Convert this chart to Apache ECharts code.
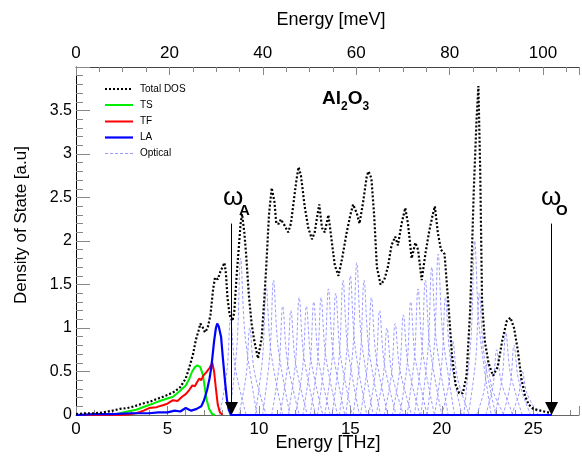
<!DOCTYPE html>
<html><head><meta charset="utf-8">
<script src="https://cdn.jsdelivr.net/npm/echarts@6/dist/echarts.min.js"></script>
<style>html,body{margin:0;padding:0;background:#fff}#c{width:582px;height:462px}</style>
</head><body><div id="c"></div>
<script>
// ---- data (x in THz, y in a.u.) ----
const totalDOS = [[0,0.01],[0.5,0.02],[1.0,0.02],[1.5,0.03],[2.0,0.05],[2.4,0.07],[2.8,0.08],[3.2,0.1],[3.6,0.13],[4.0,0.15],[4.5,0.19],[5.0,0.23],[5.4,0.27],[5.7,0.32],[6.0,0.42],[6.2,0.55],[6.4,0.7],[6.55,0.86],[6.7,0.97],[6.8,1.05],[6.9,1.02],[7.05,0.95],[7.2,1.0],[7.35,1.15],[7.5,1.45],[7.6,1.58],[7.75,1.56],[7.9,1.65],[8.05,1.72],[8.12,1.75],[8.2,1.62],[8.28,1.35],[8.4,1.15],[8.55,1.08],[8.65,1.18],[8.8,1.65],[9.0,2.2],[9.08,2.31],[9.2,2.1],[9.3,1.85],[9.45,1.38],[9.6,1.05],[9.75,0.85],[9.95,0.65],[10.15,0.88],[10.3,1.35],[10.4,1.7],[10.55,2.3],[10.7,2.61],[10.85,2.45],[10.95,2.2],[11.1,2.2],[11.2,2.25],[11.4,2.18],[11.6,2.1],[11.75,2.2],[11.9,2.45],[12.05,2.7],[12.17,2.85],[12.3,2.75],[12.5,2.4],[12.7,2.15],[12.9,2.02],[13.05,2.1],[13.2,2.3],[13.3,2.42],[13.45,2.15],[13.6,2.1],[13.8,2.3],[13.95,2.05],[14.15,1.72],[14.35,1.6],[14.55,1.8],[14.8,2.1],[15.0,2.3],[15.15,2.42],[15.35,2.32],[15.5,2.2],[15.7,2.45],[15.9,2.75],[16.0,2.8],[16.15,2.72],[16.3,2.3],[16.45,1.7],[16.65,1.5],[16.85,1.55],[17.05,1.7],[17.25,1.95],[17.45,2.05],[17.6,1.95],[17.8,2.2],[18.0,2.38],[18.15,2.2],[18.35,1.8],[18.55,1.98],[18.7,1.9],[18.9,1.55],[19.1,1.85],[19.3,2.1],[19.5,2.3],[19.62,2.4],[19.78,2.1],[19.95,1.9],[20.15,1.85],[20.35,1.3],[20.55,0.7],[20.75,0.35],[20.95,0.25],[21.15,0.25],[21.35,0.45],[21.55,1.2],[21.75,2.6],[21.9,3.4],[22.0,3.78],[22.1,2.8],[22.2,1.3],[22.35,0.85],[22.55,0.6],[22.8,0.45],[23.05,0.55],[23.3,0.85],[23.55,1.08],[23.75,1.12],[23.95,1.0],[24.15,0.75],[24.35,0.42],[24.55,0.22],[24.75,0.12],[25.0,0.07],[25.4,0.05],[25.8,0.03],[26.0,0.02]];

const tsData = [[0,0],[2.0,0],[2.4,0.02],[2.8,0.04],[3.3,0.06],[3.8,0.1],[4.2,0.13],[4.7,0.17],[5.0,0.19],[5.3,0.21],[5.65,0.27],[6.0,0.34],[6.2,0.42],[6.35,0.5],[6.5,0.55],[6.63,0.57],[6.8,0.55],[6.95,0.45],[7.05,0.3],[7.15,0.17],[7.28,0.07],[7.45,0.01],[7.6,0]];

const tfData = [[0,0],[2.5,0],[3.0,0.01],[3.3,0.02],[3.7,0.05],[4.0,0.08],[4.4,0.09],[4.7,0.11],[5.0,0.13],[5.3,0.17],[5.55,0.16],[5.8,0.21],[6.0,0.24],[6.2,0.29],[6.36,0.34],[6.5,0.33],[6.6,0.37],[6.74,0.42],[6.85,0.4],[6.95,0.45],[7.12,0.49],[7.2,0.47],[7.3,0.54],[7.45,0.6],[7.55,0.5],[7.65,0.3],[7.75,0.12],[7.85,0.04],[8.0,0]];

const laData = [[0,0],[1,0.01],[2,0.01],[3,0.02],[4,0.02],[4.5,0.03],[5.0,0.03],[5.4,0.05],[5.7,0.04],[6.0,0.08],[6.3,0.05],[6.6,0.07],[6.85,0.1],[7.0,0.17],[7.17,0.29],[7.3,0.42],[7.4,0.55],[7.55,0.85],[7.65,1.0],[7.72,1.05],[7.8,1.02],[7.93,0.9],[8.04,0.63],[8.15,0.38],[8.25,0.18],[8.35,0.06],[8.48,0],[26.0,0]];

const opticalPeaks = [
 [[7.85,0],[8.25,0.5],[8.45,1.1],[8.7,0.55],[9.3,0]],
 [[8.4,0],[8.8,0.8],[9.0,1.8],[9.25,0.9],[9.9,0]],
 [[8.9,0],[9.3,0.45],[9.5,1.0],[9.75,0.5],[10.4,0]],
 [[9.8,0],[10.2,0.66],[10.4,1.47],[10.65,0.74],[11.3,0]],
 [[10.2,0],[10.6,0.7],[10.8,1.55],[11.05,0.78],[11.7,0]],
 [[10.7,0],[11.1,0.56],[11.3,1.25],[11.55,0.63],[12.2,0]],
 [[11.15,0],[11.55,0.54],[11.75,1.2],[12.0,0.6],[12.65,0]],
 [[11.6,0],[12.0,0.6],[12.2,1.35],[12.45,0.68],[13.1,0]],
 [[12.0,0],[12.4,0.56],[12.6,1.25],[12.85,0.63],[13.5,0]],
 [[12.4,0],[12.8,0.58],[13.0,1.3],[13.25,0.65],[13.9,0]],
 [[12.8,0],[13.2,0.6],[13.4,1.35],[13.65,0.68],[14.3,0]],
 [[13.2,0],[13.6,0.65],[13.8,1.45],[14.05,0.73],[14.7,0]],
 [[13.6,0],[14.0,0.63],[14.2,1.4],[14.45,0.7],[15.1,0]],
 [[14.0,0],[14.4,0.7],[14.6,1.55],[14.85,0.78],[15.5,0]],
 [[14.4,0],[14.8,0.72],[15.0,1.6],[15.25,0.8],[15.9,0]],
 [[14.75,0],[15.15,0.79],[15.35,1.75],[15.6,0.88],[16.25,0]],
 [[15.15,0],[15.55,0.7],[15.75,1.55],[16.0,0.78],[16.65,0]],
 [[15.55,0],[15.95,0.6],[16.15,1.35],[16.4,0.68],[17.05,0]],
 [[16.0,0],[16.4,0.54],[16.6,1.2],[16.85,0.6],[17.5,0]],
 [[16.4,0],[16.8,0.45],[17.0,1.0],[17.25,0.5],[17.9,0]],
 [[16.85,0],[17.25,0.47],[17.45,1.05],[17.7,0.53],[18.35,0]],
 [[17.3,0],[17.7,0.52],[17.9,1.15],[18.15,0.58],[18.8,0]],
 [[17.7,0],[18.1,0.58],[18.3,1.3],[18.55,0.65],[19.2,0]],
 [[18.1,0],[18.5,0.65],[18.7,1.45],[18.95,0.73],[19.6,0]],
 [[18.5,0],[18.9,0.7],[19.1,1.55],[19.35,0.78],[20.0,0]],
 [[18.85,0],[19.25,0.77],[19.45,1.7],[19.7,0.85],[20.35,0]],
 [[19.2,0],[19.6,0.83],[19.8,1.85],[20.05,0.93],[20.7,0]],
 [[19.6,0],[20.0,0.6],[20.2,1.35],[20.45,0.68],[21.1,0]],
 [[20.0,0],[20.4,0.38],[20.6,0.85],[20.85,0.43],[21.5,0]],
 [[21.2,0],[21.6,0.9],[21.8,2.0],[22.05,1.0],[22.7,0]],
 [[21.45,0],[21.85,0.63],[22.05,1.4],[22.3,0.7],[22.95,0]],
 [[21.9,0],[22.3,0.27],[22.5,0.6],[22.75,0.3],[23.4,0]],
 [[22.4,0],[22.8,0.34],[23.0,0.75],[23.25,0.38],[23.9,0]],
 [[22.9,0],[23.3,0.43],[23.5,0.95],[23.75,0.48],[24.4,0]],
 [[23.35,0],[23.75,0.36],[23.95,0.8],[24.2,0.4],[24.85,0]],
 [[23.8,0],[24.2,0.23],[24.4,0.5],[24.65,0.25],[25.3,0]]
];

const arrowX = [8.5, 26.0];      // omega_A, omega_O (THz)
const arrowTop = 2.2;
const legendNames = ['Total DOS','TS','TF','LA','Optical'];
const xRange = [0, 27.5];        // THz
const topRange = [0, 107.7];     // meV
const yRange = [0, 4];

// ---- chart ----
const FONT = 'Liberation Sans, Arial, Helvetica, sans-serif';
const chart = echarts.init(document.getElementById('c'));
const base = {type:'line', showSymbol:false, symbol:'none', silent:true, animation:false};

const styles = {
  'Total DOS': {color:'#000', width:2.2, type:[2,2]},
  'TS': {color:'#00ee00', width:2, type:'solid'},
  'TF': {color:'#ff0000', width:2, type:'solid'},
  'LA': {color:'#0000ff', width:2.2, type:'solid'},
  'Optical': {color:'#9090ff', width:0.9, type:[3,2]}
};

const series = [];
opticalPeaks.forEach(pk => series.push(Object.assign({}, base, {
  name:'Optical', data:pk, smooth:0.35, z:1, lineStyle:styles['Optical']
})));
series.push(Object.assign({}, base, {name:'TS', data:tsData, z:3, lineStyle:styles['TS']}));
series.push(Object.assign({}, base, {name:'TF', data:tfData, z:3, lineStyle:styles['TF']}));
series.push(Object.assign({}, base, {name:'LA', data:laData, z:4, lineStyle:styles['LA'],
  markLine:{silent:true, animation:false, symbol:['none','triangle'], symbolSize:[13,13],
    lineStyle:{color:'#000', width:1, type:'solid'}, label:{show:false},
    data: arrowX.map(x => [{coord:[x, arrowTop]},{coord:[x, 0.075]}])}
}));
series.push(Object.assign({}, base, {name:'Total DOS', data:totalDOS, z:5, lineStyle:styles['Total DOS']}));

const txt = (t, x, y, fs, opts) => Object.assign({type:'text', x, y, z:100, style:Object.assign({
  text:t, font: (opts && opts.bold ? 'bold ' : '') + fs + 'px ' + FONT, fill:'#000',
  align:'left', verticalAlign:'middle'}, opts && opts.style || {})}, opts && opts.el || {});

// legend drawn as graphic (line samples + text)
const legendRows = [89, 105, 121.5, 137.5, 153.5];
const legendEls = [];
legendNames.forEach((n, i) => {
  const s = styles[n];
  legendEls.push({type:'line', z:100, shape:{x1:105, y1:legendRows[i], x2:133, y2:legendRows[i]},
    style:{stroke:s.color, lineWidth:s.width, lineDash: Array.isArray(s.type) ? s.type : null}});
  legendEls.push(txt(n, 140, legendRows[i], 10));
});

// measure for Al2O3
const cv = document.createElement('canvas').getContext('2d');
const mw = (f, t) => { cv.font = f; return cv.measureText(t).width; };
const fA = 'bold 19px ' + FONT, fS = 'bold 12px ' + FONT;
let ax = 322;
const alEls = [];
alEls.push(txt('Al', ax, 98.4, 19, {bold:true})); ax += mw(fA,'Al');
alEls.push(txt('2', ax, 106.8, 12, {bold:true})); ax += mw(fS,'2');
alEls.push(txt('O', ax, 98.4, 19, {bold:true})); ax += mw(fA,'O');
alEls.push(txt('3', ax, 106.8, 12, {bold:true}));

chart.setOption({
  animation:false,
  backgroundColor:'#fff',
  grid:{left:76, right:0, top:67, bottom:47, containLabel:false},
  xAxis:[
    {type:'value', position:'bottom', min:xRange[0], max:xRange[1], interval:5,
     axisLine:{lineStyle:{color:'#666'}}, splitLine:{show:false},
     axisTick:{inside:true, length:9, lineStyle:{color:'#888'}},
     minorTick:{show:true, splitNumber:5, length:5, lineStyle:{color:'#888'}},
     axisLabel:{fontSize:17, color:'#000', fontFamily:FONT, margin:6,
       formatter: v => (Math.abs(v/5 - Math.round(v/5)) < 1e-6 ? String(v) : '')}},
    {type:'value', position:'top', min:topRange[0], max:topRange[1], interval:20,
     axisLine:{lineStyle:{color:'#444'}}, splitLine:{show:false},
     axisTick:{inside:true, length:8, lineStyle:{color:'#888'}},
     minorTick:{show:true, splitNumber:4, length:5, lineStyle:{color:'#888'}},
     axisLabel:{fontSize:17, color:'#000', fontFamily:FONT, margin:5,
       formatter: v => (Math.abs(v/20 - Math.round(v/20)) < 1e-6 ? String(v) : '')}}
  ],
  yAxis:{type:'value', min:yRange[0], max:yRange[1], interval:0.5,
    axisLine:{show:true, lineStyle:{color:'#000'}}, splitLine:{show:false},
    axisTick:{inside:true, length:14, lineStyle:{color:'#888'}},
    minorTick:{show:true, splitNumber:5, length:7, lineStyle:{color:'#888'}},
    axisLabel:{fontSize:16, color:'#000', fontFamily:FONT, margin:4,
      formatter: v => (v >= 4 ? '' : String(v))}},
  series: series,
  graphic: [
    txt('Energy [THz]', 328, 443.5, 18, {style:{align:'center'}}),
    txt('Energy [meV]', 331, 20, 18, {style:{align:'center'}}),
    txt('Density of State [a.u]', 21, 225, 17, {style:{align:'center'}, el:{rotation:Math.PI/2}}),
    txt('ω', 223, 197.9, 26),
    txt('A', 239, 210.75, 15, {bold:true}),
    txt('ω', 541, 197.9, 26),
    txt('O', 556, 210.75, 15, {bold:true})
  ].concat(alEls, legendEls)
});
</script></body></html>
